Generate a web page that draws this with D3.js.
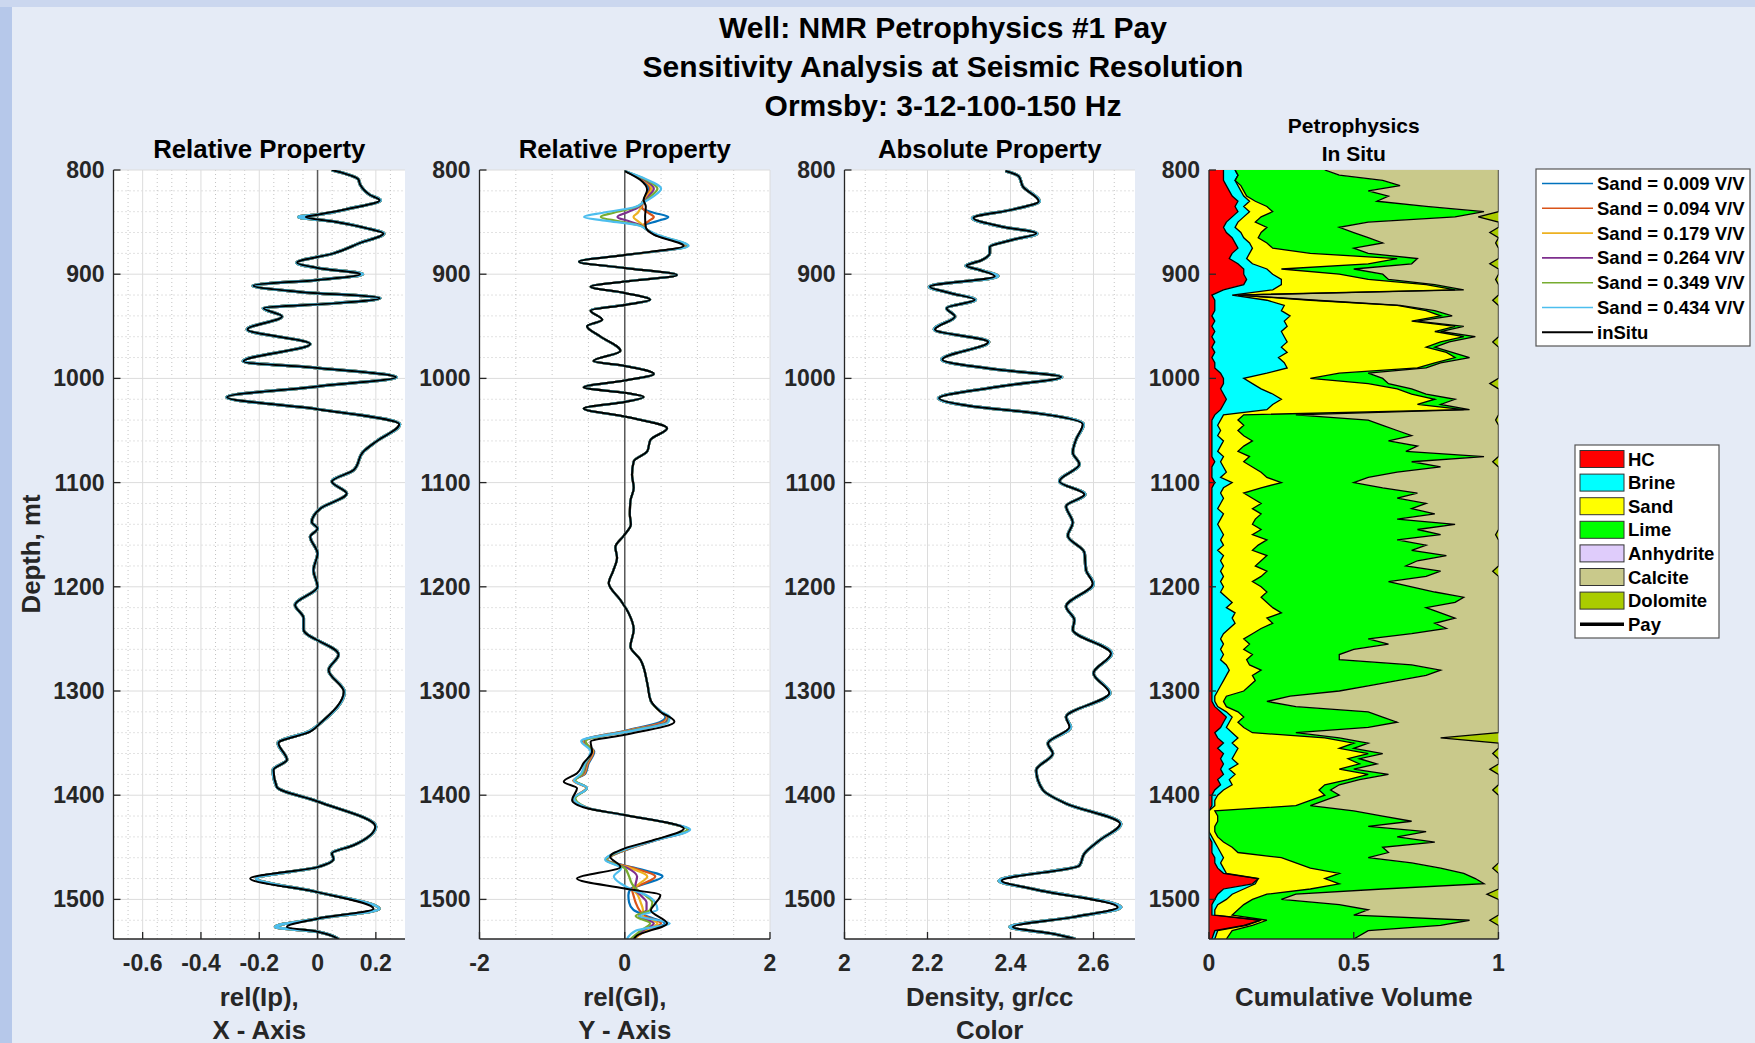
<!DOCTYPE html>
<html><head><meta charset="utf-8">
<script src="https://cdn.jsdelivr.net/npm/d3@7"></script>
<style>
body{margin:0;background:#e5ebf6;}
svg{display:block;font-family:"Liberation Sans",Arial,sans-serif;font-weight:bold;}
</style></head><body>
<svg id="c" width="1755" height="1043"></svg>
<script>
// ---------------- DATA ----------------
const titleLines = ["Well: NMR Petrophysics #1 Pay","Sensitivity Analysis at Seismic Resolution","Ormsby: 3-12-100-150 Hz"];
const depthTicks = [800,900,1000,1100,1200,1300,1400,1500];
const sandLevels = ["0.009","0.094","0.179","0.264","0.349","0.434"];
const sandColors = ["#0072BD","#D95319","#EDB120","#7E2F8E","#77AC30","#4DBEEE"];

// Panel 1: rel(Ip)
const relIpDepth = [800,809,814,824,829,837,843,845,849.5,856,861,870,880,889,894,900,905.5,911,917,923,928,932.5,940.6,953,967,983.7,990,999,1007.7,1018,1029.5,1044,1060,1070,1088,1099,1110.5,1125,1137.8,1144,1152,1168,1184,1200,1217.5,1230,1241,1265,1280,1300.8,1331,1339,1350,1366,1375.7,1392,1406,1430,1448,1456,1461,1469,1480,1493,1509,1518.5,1526.5,1531,1538];
const relIpInSitu = [0.049,0.14,0.146,0.18,0.213,0.11,0,-0.04,0.055,0.17,0.226,0.146,0.055,-0.07,0,0.146,0,-0.22,-0.06,0.213,0.055,-0.185,-0.122,-0.24,-0.025,-0.254,0,0.269,0,-0.31,0,0.28,0.204,0.158,0.124,0.049,0.10,0.009,-0.02,0,-0.025,0,-0.014,0,-0.077,-0.048,-0.048,0.072,0.038,0.09,0.009,-0.025,-0.134,-0.105,-0.151,-0.14,0,0.198,0.124,0.049,0.055,0,-0.231,0,0.192,0,-0.105,0,0.072];
const relIpSand = [0.049,0.14,0.146,0.18,0.216,0.11,0,-0.065,0.055,0.17,0.228,0.146,0.055,-0.072,0,0.155,0,-0.222,-0.06,0.215,0.055,-0.187,-0.122,-0.242,-0.025,-0.256,0,0.271,0,-0.312,0,0.282,0.204,0.158,0.124,0.049,0.10,0.009,-0.02,0,-0.025,0,-0.014,0,-0.077,-0.048,-0.048,0.072,0.038,0.092,0.009,-0.03,-0.136,-0.105,-0.153,-0.14,0,0.2,0.124,0.049,0.055,0,-0.21,0,0.212,0,-0.145,0,0.072];

// Panel 2: rel(GI)
const relGIDepth = [801,809.6,819,828.8,835,845,855,862,873,881.6,888,894,900.8,907,912,918,924.6,929.5,934.8,943.8,950,959.8,973.6,983.3,988,995.7,1002,1008.6,1013.8,1017.8,1022.6,1028.9,1036.6,1047.8,1059,1070,1079.6,1092.4,1105,1117.8,1130.6,1140,1151,1162,1172,1184.8,1196.7,1212.7,1225.5,1241,1257.4,1270,1292.6,1308.6,1319.8,1329.4,1342,1348.6,1358,1369,1379,1387,1393.4,1404.5,1412.5,1419,1432,1443,1451,1459,1468.8,1480,1489.6,1496,1504,1510.4,1523,1534.6,1538];
const relGIInSitu = [0,0.216,0.308,0.26,0.29,0.28,0.29,0.40,0.81,0,-0.63,0,0.72,0,-0.47,0,0.35,0,-0.47,-0.31,-0.52,-0.335,-0.06,-0.43,0,0.40,0,-0.565,0,0.26,0,-0.565,0,0.583,0.354,0.31,0.124,0.10,0.124,0.078,0.07,0.085,-0.014,-0.129,-0.106,-0.16,-0.22,-0.06,0.055,0.124,0.078,0.216,0.31,0.354,0.49,0.684,0,-0.47,-0.45,-0.565,-0.657,-0.84,-0.657,-0.725,-0.52,0,0.813,0.40,0,-0.2,-0.06,-0.657,0,0.49,0.42,0.36,0.583,0.17,0.124];
const relGISandTopDepth = [801,809,818,825,831,836,841,845,849,853,857,862,873];
const relGISandTop = [
  [0,0.23,0.33,0.30,0.24,0.22,0.40,0.60,0.45,0.28,0.30,0.41,0.83],
  [0,0.24,0.35,0.30,0.25,0.24,0.32,0.40,0.33,0.26,0.30,0.41,0.84],
  [0,0.25,0.37,0.31,0.25,0.22,0.18,0.12,0.18,0.25,0.30,0.42,0.85],
  [0,0.26,0.40,0.33,0.26,0.18,0.02,-0.10,0.05,0.22,0.30,0.42,0.86],
  [0,0.28,0.45,0.36,0.26,0.14,-0.15,-0.33,-0.10,0.20,0.30,0.43,0.87],
  [0,0.30,0.50,0.40,0.26,0.12,-0.30,-0.56,-0.22,0.18,0.30,0.44,0.88]
];
const relGISandBotDepth = [1310,1320,1325,1330,1338,1348,1358,1370,1379,1386,1393,1403,1412,1419,1426,1433,1443,1452,1462,1470,1478,1485,1490,1496,1503,1510,1516,1523,1530,1538];
const relGISandBot = [
  [0.36,0.50,0.56,0.48,0.02,-0.58,-0.42,-0.50,-0.54,-0.70,-0.52,-0.70,-0.52,-0.02,0.55,0.88,0.44,0.04,-0.24,0.15,0.52,0.28,0.08,0.05,0.06,0.12,0.30,0.55,0.30,0.10],
  [0.36,0.50,0.58,0.52,0.04,-0.57,-0.43,-0.51,-0.55,-0.71,-0.53,-0.70,-0.52,-0.01,0.55,0.88,0.44,0.03,-0.25,0.12,0.42,0.25,0.10,0.12,0.15,0.20,0.28,0.50,0.30,0.12],
  [0.36,0.50,0.59,0.55,0.06,-0.56,-0.44,-0.52,-0.56,-0.70,-0.53,-0.69,-0.52,0,0.55,0.87,0.43,0.02,-0.25,0.08,0.31,0.20,0.12,0.18,0.22,0.25,0.25,0.45,0.28,0.12],
  [0.36,0.50,0.60,0.57,0.08,-0.55,-0.45,-0.53,-0.57,-0.69,-0.52,-0.69,-0.52,0,0.56,0.87,0.43,0.01,-0.26,0.04,0.17,0.15,0.14,0.22,0.30,0.30,0.20,0.40,0.25,0.10],
  [0.36,0.50,0.61,0.59,0.10,-0.54,-0.46,-0.54,-0.58,-0.68,-0.52,-0.68,-0.52,0,0.56,0.86,0.42,0,-0.26,0.0,0.06,0.10,0.16,0.28,0.38,0.35,0.15,0.35,0.22,0.08],
  [0.36,0.51,0.62,0.60,0.12,-0.60,-0.47,-0.55,-0.60,-0.70,-0.52,-0.70,-0.52,0,0.56,0.90,0.44,0,-0.27,-0.05,-0.15,-0.05,0.08,0.30,0.42,0.45,0.20,0.62,0.15,0.03]
];

// Panel 3: density
const densityDepth = [801,806,816,830,838,846,854,861,867,874,880,886.6,892,896,902,912,918,924.6,932.6,940.6,953,965,982,991.7,998.7,1007.7,1018.9,1027,1033,1044,1058.6,1071,1082.5,1098.6,1111.4,1122.6,1138.6,1151,1167,1184,1197,1219,1232,1241,1264,1283,1302,1325,1334.5,1350.5,1360,1376,1395,1408,1427.5,1443.5,1456,1467.5,1482,1490,1507.5,1517,1526.5,1533,1538];
const densityInSitu = [2.388,2.42,2.43,2.468,2.405,2.311,2.374,2.462,2.405,2.35,2.35,2.33,2.294,2.326,2.362,2.206,2.254,2.314,2.246,2.266,2.218,2.346,2.236,2.374,2.522,2.374,2.228,2.31,2.454,2.574,2.558,2.55,2.566,2.518,2.578,2.534,2.55,2.538,2.578,2.582,2.598,2.534,2.554,2.55,2.642,2.6,2.638,2.534,2.542,2.49,2.502,2.462,2.478,2.534,2.664,2.614,2.578,2.566,2.379,2.454,2.658,2.55,2.406,2.502,2.556];
const densitySand = [2.388,2.42,2.43,2.47,2.405,2.308,2.374,2.464,2.405,2.35,2.35,2.33,2.292,2.326,2.37,2.204,2.254,2.316,2.246,2.266,2.216,2.348,2.234,2.374,2.524,2.374,2.226,2.31,2.454,2.576,2.558,2.55,2.566,2.518,2.58,2.534,2.55,2.538,2.578,2.582,2.6,2.534,2.554,2.55,2.644,2.6,2.64,2.534,2.545,2.49,2.502,2.462,2.478,2.534,2.666,2.614,2.578,2.566,2.372,2.454,2.666,2.55,2.398,2.502,2.556];

// Panel 4: cumulative volume boundaries (every 5 m)
const volDepth = d3.range(800,1535,5).concat([1538]);
const hcTop = [
 .05,.05,.05,.06,.07,.08,.10,.09,.10,.08, .06,.05,.06,.08,.09,.10,.08,.07,.10,.12,
 .12,.13,.12,.05,.01,.02,.02,.02,.01,.02, .01,.02,.01,.02,.01,.02,.01,.02,.02,.04,
 .05,.05,.04,.05,.06,.05,.04,.02,.01,.01, .01,.01,.01,.01,.01,.01,.02,.01,.01,.01,
 .02,.01,.01,.01,.01,.01,.01,.01,.01,.01, .01,.01,.01,.01,.01,.01,.01,.01,.01,.01,
 .01,.01,.01,.01,.01,.01,.01,.01,.01,.01, .01,.01,.01,.01,.01,.01,.01,.01,.01,.01,
 .01,.01,.01,.02,.04,.06,.05,.04,.02,.03, .05,.03,.05,.04,.05,.04,.05,.03,.04,.02,
 .01,.01,.01,0,0,0,0,0,0,.01, .01,.01,.02,.02,.03,.05,.17,.15,.05,.03,
 .02,.01,.01,.01,.18,.12,.02,.01];
const brineTop = [
 .09,.10,.09,.10,.11,.12,.14,.12,.14,.12, .10,.09,.11,.12,.14,.15,.14,.13,.15,.20,
 .22,.25,.25,.22,.08,.20,.26,.25,.28,.26, .27,.25,.26,.27,.25,.27,.24,.26,.27,.20,
 .12,.15,.18,.22,.25,.22,.20,.05,.04,.03, .04,.03,.05,.04,.03,.05,.04,.05,.06,.04,
 .08,.05,.04,.05,.04,.03,.05,.04,.03,.04, .05,.04,.05,.03,.05,.04,.05,.04,.05,.04,
 .05,.04,.06,.08,.06,.09,.08,.09,.07,.05, .04,.05,.04,.05,.04,.06,.07,.06,.05,.04,
 .03,.02,.02,.03,.06,.08,.07,.06,.08,.10, .08,.10,.09,.08,.10,.07,.09,.07,.08,.05,
 .03,.02,.02,0,0,0,0,0,.01,.02, .03,.04,.05,.04,.05,.06,.17,.16,.12,.08,
 .06,.03,.02,.02,.18,.13,.03,.02];
const sandTop = [
 .09,.10,.09,.11,.12,.13,.16,.20,.22,.18, .16,.20,.18,.17,.20,.22,.35,.65,.55,.25,
 .45,.55,.75,.85,.10,.35,.65,.75,.80,.70, .85,.78,.88,.80,.75,.82,.85,.78,.72,.45,
 .35,.55,.65,.70,.78,.72,.88,.12,.10,.12, .10,.12,.15,.12,.10,.14,.12,.15,.18,.20,
 .25,.18,.12,.15,.18,.15,.18,.16,.15,.18, .15,.20,.17,.15,.20,.18,.16,.20,.18,.15,
 .18,.20,.18,.20,.22,.25,.20,.22,.18,.15, .12,.14,.12,.15,.13,.14,.18,.15,.16,.14,
 .12,.06,.05,.06,.10,.12,.10,.12,.15,.40, .50,.45,.55,.48,.52,.45,.55,.48,.40,.38,
 .40,.35,.30,.02,.03,.03,.02,.02,.03,.05, .08,.10,.25,.30,.35,.45,.40,.45,.35,.20,
 .15,.12,.10,.08,.20,.15,.08,.06];
const limeTop = [
 .40,.45,.60,.66,.55,.62,.58,.75,.95,.85, .55,.45,.50,.55,.60,.50,.55,.72,.70,.50,
 .60,.62,.78,.88,.10,.37,.66,.78,.84,.72, .88,.80,.92,.83,.78,.84,.90,.80,.75,.55,
 .60,.62,.70,.75,.85,.80,.90,.30,.55,.60, .65,.70,.62,.72,.68,.95,.70,.80,.65,.55,
 .50,.60,.72,.65,.75,.70,.78,.65,.85,.72, .80,.65,.75,.70,.82,.72,.68,.80,.75,.62,
 .70,.78,.88,.85,.75,.80,.85,.78,.82,.70, .55,.62,.50,.45,.45,.70,.80,.75,.65,.55,
 .45,.28,.20,.30,.55,.60,.65,.55,.30,.45, .55,.50,.60,.52,.58,.50,.62,.52,.45,.42,
 .45,.40,.35,.50,.60,.70,.55,.75,.65,.78, .60,.62,.55,.70,.80,.88,.92,.95,.60,.30,
 .25,.45,.55,.50,.90,.80,.55,.50];
const calciteTop = [
 1,1,1,1,1,1,1,1,1,.93, 1,1,.97,1,.99,1,1,1,.97,1,
 1,.99,1,1,1,.98,1,1,1,1, 1,1,1,.98,1,1,1,1,1,1,
 1,.97,1,1,1,1,1,1,.99,1, 1,1,1,1,1,1,.98,1,1,1,
 1,1,1,1,1,1,1,1,1,1, .99,1,1,1,1,1,1,.98,1,1,
 1,1,1,1,1,1,1,1,1,1, 1,1,1,1,1,1,1,1,1,1,
 1,1,1,1,1,1,1,1,1,.80, 1,1,.98,1,1,.97,1,1,1,.98,
 1,1,1,1,1,1,1,1,1,1, 1,1,1,1,.98,1,1,1,1,.96,
 1,1,1,1,.97,1,1,1];
const volNames = ["HC","Brine","Sand","Lime","Anhydrite","Calcite","Dolomite"];
const volColors = ["#FF0000","#00FFFF","#FFFF00","#00FF00","#DFCCFB","#C9C98B","#AACC00"];

// ---------------- DRAW ----------------
const W = 1755, H = 1043;
const svg = d3.select("#c");
svg.append("rect").attr("width",W).attr("height",H).attr("fill","#e5ebf6");
svg.append("rect").attr("width",12).attr("height",H).attr("fill","#b6c8ea");
svg.append("rect").attr("width",W).attr("height",7).attr("fill","#cbd7ef");

const TOP = 170, BOT = 939;
const y = d3.scaleLinear().domain([800,1538]).range([TOP,BOT]);
const ink = "#262626";

titleLines.forEach((t,i)=>{
  svg.append("text").attr("x",943).attr("y",27+i*39).attr("text-anchor","middle")
    .attr("dominant-baseline","central").attr("font-size",30).attr("fill","#000").text(t);
});

const panels = [
  {x0:113.5,x1:405,domain:[-0.7,0.3],ticks:[-0.6,-0.4,-0.2,0,0.2],minor:0.05,title:["Relative Property"],xlabel:["rel(Ip),","X - Axis"],zero:true},
  {x0:479.5,x1:770,domain:[-2,2],ticks:[-2,0,2],minor:0.5,title:["Relative Property"],xlabel:["rel(GI),","Y - Axis"],zero:true},
  {x0:844.5,x1:1135,domain:[2,2.7],ticks:[2,2.2,2.4,2.6],minor:0.05,title:["Absolute Property"],xlabel:["Density, gr/cc","Color"],zero:false},
  {x0:1209,x1:1498.5,domain:[0,1],ticks:[0,0.5,1],minor:0.1,title:["Petrophysics","In Situ"],xlabel:["Cumulative Volume"],zero:false}
];

const lineGen = (x)=> d3.line().x(d=>x(d[1])).y(d=>y(d[0])).curve(d3.curveMonotoneY);
const zip = (ds,vs)=> ds.map((d,i)=>[d,vs[i]]);

panels.forEach((p,pi)=>{
  const x = d3.scaleLinear().domain(p.domain).range([p.x0,p.x1]);
  p.x = x;
  const g = svg.append("g");
  g.append("rect").attr("x",p.x0).attr("y",TOP).attr("width",p.x1-p.x0).attr("height",BOT-TOP).attr("fill","#fff");
  const clipId = "clip"+pi;
  svg.append("clipPath").attr("id",clipId).append("rect").attr("x",p.x0).attr("y",TOP).attr("width",p.x1-p.x0).attr("height",BOT-TOP);
  // minor grid
  const n = Math.round((p.domain[1]-p.domain[0])/p.minor);
  for(let k=1;k<n;k++){
    const v = p.domain[0]+k*p.minor;
    if(p.ticks.some(t=>Math.abs(t-v)<1e-9)) continue;
    g.append("line").attr("x1",x(v)).attr("x2",x(v)).attr("y1",TOP).attr("y2",BOT)
      .attr("stroke","#c4c4c4").attr("stroke-width",1).attr("stroke-dasharray","1,3");
  }
  for(let dpt=820; dpt<1538; dpt+=20){
    if(dpt%100===0) continue;
    g.append("line").attr("x1",p.x0).attr("x2",p.x1).attr("y1",y(dpt)).attr("y2",y(dpt))
      .attr("stroke","#c4c4c4").attr("stroke-width",1).attr("stroke-dasharray","1,3");
  }
  // major grid
  p.ticks.forEach(t=>{
    g.append("line").attr("x1",x(t)).attr("x2",x(t)).attr("y1",TOP).attr("y2",BOT)
      .attr("stroke","#dcdcdc").attr("stroke-width",1);
  });
  depthTicks.forEach(t=>{
    g.append("line").attr("x1",p.x0).attr("x2",p.x1).attr("y1",y(t)).attr("y2",y(t))
      .attr("stroke","#dcdcdc").attr("stroke-width",1);
  });
  if(p.zero){
    g.append("line").attr("x1",x(0)).attr("x2",x(0)).attr("y1",TOP).attr("y2",BOT)
      .attr("stroke","#5a5a5a").attr("stroke-width",1.5);
  }
  const dg = g.append("g").attr("clip-path",`url(#${clipId})`);
  const lg = lineGen(x);
  if(pi===0 || pi===2){
    const ds = pi===0?relIpDepth:densityDepth;
    const sand = pi===0?relIpSand:densitySand;
    const ins = pi===0?relIpInSitu:densityInSitu;
    sandColors.forEach(c=>{
      dg.append("path").attr("d",lg(zip(ds,sand))).attr("fill","none").attr("stroke",c).attr("stroke-width",3);
    });
    dg.append("path").attr("d",lg(zip(ds,ins))).attr("fill","none").attr("stroke","#000").attr("stroke-width",2);
  } else if(pi===1){
    const mid = zip(relGIDepth,relGIInSitu).filter(q=>q[0]>873 && q[0]<1310);
    sandColors.forEach((c,k)=>{
      const pts = zip(relGISandTopDepth,relGISandTop[k]).concat(mid, zip(relGISandBotDepth,relGISandBot[k]));
      dg.append("path").attr("d",lg(pts)).attr("fill","none").attr("stroke",c).attr("stroke-width",2.2);
    });
    dg.append("path").attr("d",lg(zip(relGIDepth,relGIInSitu))).attr("fill","none").attr("stroke","#000").attr("stroke-width",2);
  } else {
    const bounds = [volDepth.map(()=>0), hcTop, brineTop, sandTop, limeTop, limeTop, calciteTop, volDepth.map(()=>1)];
    for(let k=0;k<7;k++){
      if(k===4) continue; // anhydrite: zero volume
      const area = d3.area().y((d,i)=>y(volDepth[i])).x0((d,i)=>x(bounds[k][i])).x1((d,i)=>x(bounds[k+1][i])).curve(d3.curveLinear);
      dg.append("path").attr("d",area(volDepth)).attr("fill",volColors[k]).attr("stroke","none");
    }
    [hcTop,brineTop,sandTop,limeTop,calciteTop].forEach(b=>{
      const ln = d3.line().x((d,i)=>x(b[i])).y((d,i)=>y(volDepth[i]));
      dg.append("path").attr("d",ln(volDepth)).attr("fill","none").attr("stroke","#000").attr("stroke-width",1.3);
    });
  }
  // axes
  g.append("line").attr("x1",p.x0).attr("x2",p.x0).attr("y1",TOP).attr("y2",BOT).attr("stroke",ink).attr("stroke-width",1.3);
  g.append("line").attr("x1",p.x0).attr("x2",p.x1).attr("y1",BOT).attr("y2",BOT).attr("stroke",ink).attr("stroke-width",1.3);
  depthTicks.forEach(t=>{
    g.append("line").attr("x1",p.x0).attr("x2",p.x0+7).attr("y1",y(t)).attr("y2",y(t)).attr("stroke",ink).attr("stroke-width",1.3);
    g.append("text").attr("x",p.x0-9).attr("y",y(t)).attr("text-anchor","end").attr("dominant-baseline","central")
      .attr("font-size",23).attr("fill",ink).text(t);
  });
  p.ticks.forEach(t=>{
    g.append("line").attr("x1",x(t)).attr("x2",x(t)).attr("y1",BOT).attr("y2",BOT-7).attr("stroke",ink).attr("stroke-width",1.3);
    g.append("text").attr("x",x(t)).attr("y",963).attr("text-anchor","middle").attr("dominant-baseline","central")
      .attr("font-size",23).attr("fill",ink).text(String(t));
  });
  const cx = (p.x0+p.x1)/2;
  if(p.title.length===1){
    g.append("text").attr("x",cx).attr("y",149).attr("text-anchor","middle").attr("dominant-baseline","central")
      .attr("font-size",25.8).attr("fill","#000").text(p.title[0]);
  } else {
    p.title.forEach((t,i)=>g.append("text").attr("x",cx).attr("y",125+i*28).attr("text-anchor","middle").attr("dominant-baseline","central")
      .attr("font-size",21).attr("fill","#000").text(t));
  }
  p.xlabel.forEach((t,i)=>g.append("text").attr("x",cx).attr("y",997+i*33).attr("text-anchor","middle").attr("dominant-baseline","central")
    .attr("font-size",25.8).attr("fill",ink).text(t));
});

svg.append("text").attr("transform","translate(31,554) rotate(-90)").attr("text-anchor","middle")
  .attr("dominant-baseline","central").attr("font-size",25.8).attr("fill",ink).text("Depth, mt");

// Legend 1
const L1 = svg.append("g");
L1.append("rect").attr("x",1536).attr("y",169).attr("width",214).attr("height",177).attr("fill","#fff").attr("stroke","#555").attr("stroke-width",1.2);
const l1Labels = sandLevels.map(s=>`Sand = ${s} V/V`).concat(["inSitu"]);
const l1Colors = sandColors.concat(["#000"]);
l1Labels.forEach((t,i)=>{
  const yy = 183.5+i*24.8;
  L1.append("line").attr("x1",1542).attr("x2",1593).attr("y1",yy).attr("y2",yy).attr("stroke",l1Colors[i]).attr("stroke-width",i===6?2:1.6);
  L1.append("text").attr("x",1597).attr("y",yy).attr("dominant-baseline","central").attr("font-size",18.5).attr("fill","#000").text(t);
});

// Legend 2
const L2 = svg.append("g");
L2.append("rect").attr("x",1575).attr("y",445).attr("width",144).attr("height",193).attr("fill","#fff").attr("stroke","#555").attr("stroke-width",1.2);
volNames.concat(["Pay"]).forEach((t,i)=>{
  const yy = 459+i*23.6;
  if(i<7){
    L2.append("rect").attr("x",1580).attr("y",yy-8.5).attr("width",44).attr("height",17).attr("fill",volColors[i]).attr("stroke","#333").attr("stroke-width",1);
  } else {
    L2.append("line").attr("x1",1580).attr("x2",1624).attr("y1",yy).attr("y2",yy).attr("stroke","#000").attr("stroke-width",3.5);
  }
  L2.append("text").attr("x",1628).attr("y",yy).attr("dominant-baseline","central").attr("font-size",18.5).attr("fill","#000").text(t);
});
</script>
</body></html>
